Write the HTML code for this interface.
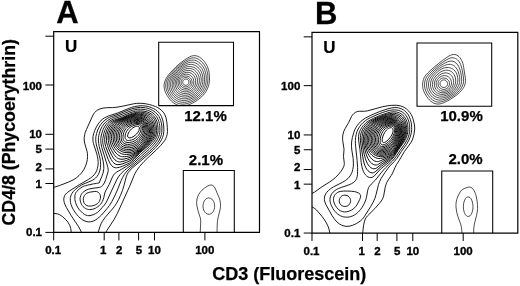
<!DOCTYPE html>
<html><head><meta charset="utf-8"><title>Figure</title>
<style>
html,body{margin:0;padding:0;background:#fff}
svg{display:block}
text{font-family:"Liberation Sans",sans-serif;font-weight:bold;fill:#000}
.c{fill:none;stroke:#000;stroke-width:0.95;stroke-linejoin:round}
.c3{fill:none;stroke:#000;stroke-width:0.9;stroke-linejoin:round}
.c2{fill:none;stroke:#000;stroke-width:0.7;stroke-linejoin:round}
.f{fill:none;stroke:#000;stroke-width:1.2}
.g{fill:none;stroke:#000;stroke-width:1.05}
.t{fill:none;stroke:#000;stroke-width:1.0}
.n{font-size:11.5px;stroke:#000;stroke-width:0.35}
.L{font-size:31px;stroke:#000;stroke-width:0.3}
.u{font-size:17px;stroke:#000;stroke-width:0.2}
.p{font-size:15px;stroke:#000;stroke-width:0.25}
.a{font-size:18px;stroke:#000;stroke-width:0.25}
</style></head><body>
<svg width="520" height="286" viewBox="0 0 520 286">
<rect width="520" height="286" fill="#fff"/>
<g transform="translate(0,0)">
<clipPath id="cf1"><rect x="53.7" y="31.7" width="205.8" height="200.70000000000002"/></clipPath>
<clipPath id="cu1"><rect x="158.7" y="42.3" width="74.80000000000001" height="63.3"/></clipPath>
<path class="c3" clip-path="url(#cf1)" d="M92.0,221.5 90.5,221.8 88.5,221.9 87.0,221.7 85.0,221.1 83.0,220.1 81.5,219.1 80.0,217.9 78.5,216.5 76.5,214.2 74.9,212.0 73.3,209.5 72.0,207.0 71.0,204.5 70.5,202.5 70.3,200.5 70.3,198.5 70.4,197.5 70.8,196.0 71.4,194.5 71.9,193.5 73.3,191.5 75.3,189.5 78.4,187.0 81.5,185.0 84.0,183.8 91.0,181.0 92.9,180.0 94.4,179.0 95.6,178.0 97.0,176.5 98.3,174.5 99.2,172.5 100.0,170.0 100.5,167.5 100.6,164.5 100.5,161.5 100.1,159.0 99.3,155.5 96.4,145.0 95.9,142.0 95.7,139.5 95.9,136.5 96.6,133.5 97.7,130.0 99.2,127.0 100.7,124.5 102.8,122.0 105.0,120.0 107.5,118.4 109.5,117.3 111.5,116.5 118.0,114.3 128.0,110.2 132.0,108.8 135.0,108.0 138.0,107.6 140.5,107.4 143.0,107.5 145.5,107.8 148.0,108.4 150.5,109.3 152.5,110.3 154.0,111.3 155.6,112.5 157.0,113.9 158.0,115.1 159.0,116.6 159.9,118.5 160.7,120.5 161.2,122.5 161.7,125.0 161.9,127.0 161.9,130.0 161.8,132.5 161.4,134.5 160.8,136.5 160.2,138.0 159.3,140.0 157.7,142.5 155.7,145.0 153.9,147.0 151.0,149.9 149.3,151.5 137.8,161.5 130.1,168.0 128.0,170.0 126.2,172.0 124.3,174.5 122.6,177.5 121.2,180.5 117.4,190.0 114.7,196.0 111.9,201.5 109.4,205.5 107.1,208.5 104.2,212.0 101.5,215.0 99.5,216.9 97.5,218.6 95.5,220.0 94.0,220.8Z M90.0,215.6 89.0,215.7 87.5,215.6 85.6,215.0 84.5,214.4 83.0,213.4 79.5,209.9 77.5,207.0 76.5,205.1 75.5,202.4 74.9,199.5 74.9,195.5 75.5,193.3 76.0,192.3 76.7,191.5 79.8,188.5 83.0,186.5 84.3,186.0 85.5,185.7 86.0,185.5 87.5,185.2 88.0,185.0 90.0,184.7 93.5,183.8 95.0,183.7 96.5,183.3 99.2,183.0 99.5,182.6 99.9,181.0 102.0,176.1 102.9,173.5 103.5,171.0 103.8,168.5 103.8,167.0 103.7,165.0 103.1,161.0 101.9,156.0 99.2,146.5 98.7,143.5 98.4,141.0 98.4,139.0 98.5,137.5 98.8,135.5 99.3,133.5 100.4,130.0 101.4,128.0 102.2,126.5 103.9,124.0 105.8,122.0 107.6,120.5 110.0,119.0 111.5,118.2 113.5,117.4 120.0,115.1 129.0,111.5 132.5,110.3 135.0,109.7 137.5,109.3 140.5,109.2 143.0,109.3 145.5,109.7 147.5,110.3 149.5,111.0 151.5,112.0 153.0,113.0 154.2,114.0 155.5,115.3 156.5,116.6 157.4,118.0 158.3,120.0 158.8,121.5 159.3,123.5 159.7,125.5 159.9,128.0 159.9,130.5 159.8,132.5 159.4,134.5 158.8,136.5 157.9,138.5 157.1,140.0 155.8,142.0 154.0,144.2 151.9,146.5 149.0,149.4 141.5,156.0 134.4,162.5 132.0,164.5 126.7,168.5 124.3,170.5 122.1,172.5 120.3,174.5 118.3,177.0 116.6,180.0 111.0,192.0 107.4,200.0 106.1,202.5 104.5,204.9 103.0,206.7 101.6,208.0 100.5,209.5 97.5,212.4 95.7,213.5 93.7,214.5 92.0,215.1Z M91.0,209.5 89.5,209.6 88.5,209.5 87.5,209.3 86.5,208.9 85.5,208.4 84.5,207.8 83.0,206.5 82.2,205.5 81.5,204.5 80.7,202.5 80.3,201.0 80.1,200.0 80.1,198.5 80.2,197.5 80.8,195.5 81.3,194.5 82.0,193.4 82.8,192.5 83.9,191.5 85.0,190.8 86.0,190.2 88.5,189.2 91.0,188.6 94.0,188.1 98.0,187.7 99.5,187.4 100.5,187.1 101.5,186.5 102.6,185.5 103.7,184.0 104.7,182.0 105.7,179.5 108.0,172.0 108.2,170.5 108.1,169.0 107.9,167.5 107.2,165.0 101.8,147.5 101.0,143.5 100.8,140.5 100.8,138.5 101.0,137.0 101.4,135.0 101.9,133.0 103.1,129.5 103.8,128.0 105.0,126.0 106.4,124.0 108.0,122.4 110.0,120.9 112.0,119.7 114.5,118.6 121.5,116.2 130.0,112.8 133.5,111.6 135.5,111.2 137.5,111.0 140.5,110.9 143.0,111.0 145.0,111.4 147.0,111.9 149.0,112.7 151.0,113.8 152.5,114.9 153.5,115.8 154.5,117.0 155.2,118.0 156.1,119.5 156.7,121.0 157.2,122.5 157.6,124.5 158.1,129.0 158.1,130.5 158.0,132.0 157.5,134.5 157.1,136.0 156.5,137.5 155.4,139.5 154.4,141.0 153.0,142.8 149.5,146.4 146.8,149.0 140.5,154.5 136.1,159.0 132.8,162.0 130.5,163.7 126.5,166.3 121.5,169.3 116.8,172.0 115.4,173.0 114.5,173.9 113.5,175.1 112.5,176.8 109.2,184.5 105.6,191.0 104.8,193.0 103.8,197.5 103.2,199.5 102.4,201.5 101.5,203.0 100.5,204.2 99.3,205.5 98.0,206.6 96.5,207.6 95.5,208.2 94.0,208.8 92.5,209.3Z M85.0,239.1 84.0,237.7 83.1,236.2 80.4,230.0 78.6,226.7 71.3,215.8 66.5,207.7 65.1,204.9 64.3,202.6 63.8,200.3 63.8,198.7 64.1,197.1 64.7,195.5 65.6,194.2 67.2,192.6 69.1,191.2 79.6,184.5 88.3,179.5 90.9,177.8 92.8,176.2 94.4,174.4 95.5,173.0 96.6,170.8 97.4,168.5 98.0,165.5 98.2,162.5 97.9,159.4 97.5,156.9 96.8,153.9 93.5,143.7 93.0,141.4 92.9,139.0 93.0,136.6 93.7,133.6 94.7,130.6 96.3,127.1 98.2,123.9 100.1,121.4 102.3,119.4 104.8,117.7 108.2,116.1 118.2,112.8 128.1,108.7 131.6,107.4 134.7,106.5 137.1,106.1 140.2,105.8 142.7,105.7 145.8,106.1 148.2,106.5 151.2,107.5 153.4,108.5 155.5,109.7 157.0,110.8 159.6,113.4 160.6,114.9 161.5,116.5 162.7,119.9 163.3,122.9 163.7,126.0 163.9,129.2 163.8,131.6 163.5,134.1 163.1,135.9 162.5,137.6 161.5,139.8 160.2,141.9 158.4,144.4 155.9,147.3 153.3,150.0 148.2,154.6 132.8,167.5 130.1,170.1 128.2,172.5 127.1,174.6 126.2,176.9 123.9,185.9 122.4,190.7 120.5,195.3 118.7,199.3 116.6,203.2 114.2,206.8 111.4,210.2 105.2,217.3 102.4,221.3 101.2,223.5 100.0,226.4 97.3,235.3 96.5,236.9 95.6,238.4 94.5,239.6 93.2,240.5 91.7,241.2 90.7,241.4 89.6,241.4 88.1,241.1 86.7,240.4 85.4,239.5Z M102.9,137.9 103.9,133.3 104.7,130.8 105.7,128.4 106.7,126.5 107.9,124.7 109.0,123.5 110.2,122.3 111.9,121.2 114.2,120.1 122.3,117.4 129.9,114.2 133.1,113.1 136.9,112.3 140.3,112.1 144.1,112.5 147.4,113.5 150.4,115.1 152.6,117.0 154.4,119.3 155.5,122.0 156.1,124.5 156.5,127.9 156.6,130.5 156.4,133.0 155.9,135.0 155.1,137.0 154.1,138.9 152.6,140.9 148.9,145.1 140.1,152.7 134.3,159.0 131.7,161.3 129.7,162.8 127.0,164.2 122.3,166.3 119.5,167.3 116.7,167.8 115.2,167.7 114.1,167.4 113.0,166.8 111.8,165.8 110.1,163.5 108.3,159.7 103.6,146.7 103.1,144.7 102.8,142.6 102.7,140.4 102.9,138.3Z M87.0,193.1 89.7,192.2 94.8,191.4 96.8,191.6 97.7,192.0 98.5,192.5 99.4,193.5 100.1,194.6 100.4,195.8 100.5,197.0 100.3,198.6 99.9,200.1 99.3,201.5 98.4,202.7 97.3,203.7 95.8,204.7 93.9,205.4 91.6,206.0 89.9,206.1 88.3,206.0 86.9,205.6 85.6,204.8 84.5,203.7 83.7,202.1 83.3,200.4 83.3,198.6 83.8,196.8 84.4,195.5 85.4,194.3 86.8,193.2Z M50.0,188.0 55.2,186.9 59.2,185.7 68.2,182.2 73.0,180.0 76.6,177.7 79.0,175.6 81.2,173.3 83.7,169.8 85.6,165.9 86.6,162.9 87.3,159.7 87.5,156.5 87.4,153.3 87.0,151.2 84.9,144.0 84.3,140.9 84.2,137.8 84.7,134.6 85.2,132.6 86.4,129.6 92.5,116.0 93.5,114.1 94.8,112.4 96.3,110.9 97.1,110.3 100.0,108.9 103.1,108.1 106.3,107.7 112.6,107.6 116.9,107.2 122.1,106.3 133.6,103.8 136.7,103.4 139.9,103.3 143.0,103.4 146.2,103.9 149.3,104.5 152.4,105.4 155.4,106.5 157.3,107.4 160.0,109.1 161.7,110.5 163.8,112.9 164.9,114.8 166.0,117.7 166.8,121.9 167.3,127.2 167.5,131.4 167.1,134.6 166.5,136.7 165.7,138.6 164.7,140.5 163.4,142.2 160.7,145.5 156.2,150.0 147.7,157.9 143.9,161.6 139.7,166.4 136.6,170.7 135.0,173.5 134.1,175.4 129.7,186.2 117.4,213.3 113.9,219.8 106.9,230.4 103.5,237.0 M53.7,213.4 57.2,213.8 59.6,214.7 62.8,216.8 66.2,220.0 68.2,222.6 69.8,225.5 70.7,228.4 71.3,232.4"/>
<path class="c" clip-path="url(#cf1)" d="M120.1,164.5 123.0,163.7 127.5,161.9 130.0,160.7 132.5,159.0 134.5,157.3 139.4,152.5 145.1,147.5 147.7,145.0 150.8,141.5 152.3,139.5 153.2,138.0 154.0,136.5 154.6,135.0 154.9,133.5 155.1,132.0 155.2,130.5 155.2,128.5 155.0,126.5 154.6,124.5 154.2,123.0 153.7,121.5 153.2,120.5 152.5,119.3 151.5,118.1 150.5,117.1 149.5,116.3 148.2,115.5 146.5,114.6 144.5,113.9 142.5,113.5 140.5,113.2 138.5,113.2 136.5,113.3 134.5,113.7 132.5,114.2 129.5,115.2 123.0,117.8 117.0,120.0 114.0,121.4 112.2,122.5 111.0,123.5 109.6,125.0 108.3,127.0 107.0,129.5 106.1,132.0 105.4,134.5 104.9,137.0 104.7,139.5 104.8,142.0 105.1,144.0 105.7,146.5 107.0,150.0 110.0,157.2 111.2,159.5 112.5,161.6 113.3,162.5 114.0,163.2 115.0,163.9 116.0,164.3 117.0,164.6 118.0,164.7Z M122.8,161.5 126.5,160.4 129.5,159.2 132.0,157.9 134.0,156.4 143.5,148.0 146.6,145.0 148.4,143.0 150.0,141.0 151.4,139.0 152.3,137.5 153.0,136.0 153.5,134.5 153.8,133.0 154.0,131.5 154.0,130.0 153.9,128.0 153.6,126.0 153.3,124.5 152.4,122.0 151.6,120.5 150.9,119.5 150.0,118.5 148.8,117.5 147.5,116.6 146.5,116.0 145.0,115.4 143.0,114.7 141.0,114.3 139.0,114.2 137.0,114.2 135.0,114.4 133.0,114.8 130.5,115.6 127.5,116.7 119.1,120.0 116.8,121.0 114.9,122.0 113.5,123.0 111.9,124.5 110.7,126.0 109.4,128.0 108.3,130.5 107.4,133.0 106.9,135.5 106.6,138.0 106.5,140.5 106.8,143.0 107.5,145.5 108.4,148.0 110.0,151.8 112.0,155.8 113.5,158.2 115.0,159.9 116.5,161.0 117.5,161.5 118.5,161.8 119.5,161.9 120.5,161.9Z M124.2,159.0 127.5,158.2 130.5,157.1 133.0,155.8 136.0,153.6 142.0,148.5 145.6,145.0 147.4,143.0 149.0,141.0 150.3,139.0 151.1,137.5 151.8,136.0 152.3,134.5 152.6,133.0 152.8,131.5 152.8,130.0 152.8,128.5 152.5,126.5 152.1,125.0 151.6,123.5 151.0,122.1 150.3,121.0 149.5,120.0 148.6,119.0 147.5,118.1 145.5,116.9 144.0,116.2 142.0,115.6 140.0,115.2 138.0,115.1 136.0,115.1 134.0,115.4 131.5,116.0 129.0,116.8 125.7,118.0 120.8,120.0 117.7,121.5 116.0,122.5 114.7,123.5 113.1,125.0 112.0,126.5 110.8,128.5 109.9,130.5 109.0,133.0 108.5,135.5 108.2,138.0 108.3,140.5 108.6,142.5 109.2,145.0 110.2,147.5 111.6,150.5 113.5,153.7 115.0,155.8 116.5,157.3 117.5,158.1 118.2,158.5 119.0,158.8 120.0,159.1 122.0,159.3Z M126.6,156.5 128.5,156.1 130.0,155.7 131.5,155.2 133.0,154.5 136.0,152.6 140.0,149.5 143.2,146.5 144.7,145.0 146.4,143.0 147.9,141.0 148.9,139.5 149.8,138.0 150.5,136.5 151.0,135.0 151.4,133.5 151.7,132.0 151.7,130.5 151.7,129.0 151.5,127.5 151.2,126.0 150.7,124.5 150.0,123.0 149.5,122.1 148.7,121.0 148.0,120.2 147.0,119.3 146.0,118.5 145.0,117.9 143.5,117.2 141.5,116.5 139.5,116.1 137.5,115.9 135.5,116.0 133.0,116.4 130.5,117.0 127.5,117.9 124.7,119.0 121.3,120.5 119.4,121.5 117.7,122.5 116.4,123.5 114.8,125.0 113.6,126.5 112.6,128.0 111.6,130.0 110.9,132.0 110.2,134.5 109.9,137.0 109.9,139.5 110.3,142.0 110.8,144.0 111.5,146.0 112.8,148.5 114.5,151.2 116.0,153.1 117.5,154.5 119.0,155.6 120.5,156.3 121.5,156.6 122.5,156.7 124.5,156.7Z M126.5,154.5 129.5,154.2 131.0,153.9 132.5,153.4 134.0,152.7 135.5,151.9 138.5,149.8 141.7,147.0 143.5,145.2 145.0,143.5 146.5,141.6 147.6,140.0 148.4,138.5 149.2,137.0 150.1,134.5 150.4,133.0 150.6,131.5 150.6,130.0 150.5,128.5 150.2,127.0 149.8,125.5 149.2,124.0 148.6,123.0 148.0,122.0 147.1,121.0 146.1,120.0 145.0,119.2 143.0,118.1 141.0,117.4 139.0,117.0 137.0,116.8 135.0,116.9 133.0,117.1 130.5,117.7 127.9,118.5 125.2,119.5 122.9,120.5 121.0,121.5 119.4,122.5 117.5,124.0 116.0,125.5 115.0,126.7 113.9,128.5 113.1,130.0 112.4,132.0 111.9,134.0 111.5,136.5 111.5,138.5 111.7,140.5 112.1,142.5 112.8,144.5 113.8,146.5 115.0,148.4 116.5,150.2 118.0,151.6 119.5,152.7 121.5,153.7 123.0,154.2 124.5,154.4Z M130.0,152.5 131.5,152.2 133.0,151.7 135.5,150.6 138.0,149.0 140.5,147.0 142.0,145.5 143.4,144.0 145.7,141.0 147.6,138.0 148.3,136.5 148.8,135.0 149.2,133.5 149.5,132.0 149.5,129.5 149.1,127.0 148.7,125.5 148.2,124.5 147.0,122.5 146.2,121.5 145.1,120.5 144.0,119.7 143.0,119.1 141.0,118.3 139.0,117.9 137.0,117.7 135.0,117.7 133.0,118.0 130.5,118.5 128.5,119.1 126.0,120.0 123.7,121.0 121.9,122.0 120.4,123.0 119.0,124.1 117.6,125.5 116.4,127.0 115.4,128.5 114.7,130.0 113.9,132.0 113.4,134.0 113.1,136.0 113.1,138.0 113.3,140.0 113.7,142.0 114.4,144.0 115.4,146.0 116.5,147.5 117.9,149.0 119.1,150.0 121.0,151.1 122.5,151.8 124.0,152.3 126.0,152.6 128.0,152.7Z M129.5,151.0 132.0,150.5 134.5,149.6 137.0,148.3 139.5,146.4 142.0,143.9 144.4,141.0 145.4,139.5 146.3,138.0 147.5,135.5 148.2,133.0 148.4,130.5 148.2,128.0 147.7,126.0 146.8,124.0 146.2,123.0 145.4,122.0 144.5,121.2 143.5,120.4 141.5,119.4 140.0,119.0 138.0,118.6 136.5,118.6 134.5,118.7 132.5,119.0 130.2,119.5 128.0,120.2 125.9,121.0 124.0,121.9 122.5,122.9 121.0,123.9 119.8,125.0 118.5,126.4 117.5,127.7 116.5,129.5 115.8,131.0 115.3,132.5 114.8,134.5 114.6,136.5 114.7,138.5 114.9,140.5 115.5,142.5 116.1,144.0 117.0,145.6 118.0,146.9 119.2,148.0 120.5,149.0 122.0,149.8 123.5,150.4 125.5,150.9 127.5,151.1Z M131.9,149.0 134.0,148.3 136.5,147.0 138.5,145.6 140.5,143.7 142.5,141.5 144.5,138.8 145.8,136.5 146.7,134.0 147.2,132.0 147.3,129.5 147.1,128.0 146.9,127.0 146.2,125.0 145.4,123.5 144.6,122.5 144.0,121.9 142.5,120.8 140.5,120.0 139.0,119.7 137.0,119.5 135.5,119.5 133.5,119.7 131.5,120.2 129.0,120.9 127.0,121.7 125.3,122.5 123.6,123.5 122.2,124.5 121.1,125.5 120.0,126.6 119.0,128.0 118.1,129.5 117.4,131.0 116.8,132.5 116.5,134.0 116.2,136.0 116.2,138.0 116.4,140.0 117.0,142.0 117.6,143.5 118.5,145.0 119.3,146.0 120.5,147.1 121.9,148.0 123.5,148.7 125.0,149.1 126.5,149.4 128.5,149.5 130.0,149.4Z M131.4,147.5 133.5,146.9 135.5,145.9 137.5,144.6 139.0,143.4 141.0,141.4 142.9,139.0 144.2,137.0 145.3,134.5 145.9,132.5 146.2,130.0 146.0,128.0 145.6,126.0 144.9,124.5 143.9,123.0 142.5,121.8 141.0,121.1 139.5,120.7 138.0,120.4 136.5,120.4 135.0,120.5 133.0,120.8 131.0,121.4 129.0,122.0 127.0,122.9 125.5,123.7 124.2,124.5 123.0,125.5 121.9,126.5 121.0,127.5 120.0,129.0 119.4,130.0 118.8,131.5 118.3,133.0 117.9,135.0 117.8,137.0 117.8,138.5 118.2,140.5 118.6,142.0 119.4,143.5 120.0,144.4 121.0,145.4 122.0,146.2 123.5,147.0 125.0,147.5 126.5,147.7 128.0,147.8 129.5,147.8Z M130.5,146.0 132.5,145.5 134.5,144.8 136.5,143.6 137.9,142.5 140.0,140.5 141.5,138.7 142.7,137.0 143.8,135.0 144.5,133.0 144.9,131.0 145.0,129.0 144.7,127.0 144.3,125.5 143.5,124.0 142.5,123.0 141.8,122.5 141.0,122.1 140.0,121.7 138.5,121.4 137.0,121.4 135.5,121.4 134.0,121.7 132.0,122.2 128.5,123.4 126.0,124.8 123.8,126.5 122.9,127.5 122.1,128.5 121.4,129.5 120.6,131.0 120.1,132.5 119.7,134.0 119.5,135.5 119.4,137.5 119.5,139.0 119.9,140.5 120.4,142.0 121.0,143.0 121.9,144.0 122.5,144.5 123.5,145.1 125.0,145.7 126.0,146.0 127.5,146.1 129.0,146.2Z M131.7,144.0 133.5,143.4 135.0,142.7 136.5,141.7 138.0,140.5 139.5,139.0 141.0,137.1 142.0,135.6 142.8,134.0 143.3,132.5 143.7,130.5 143.8,128.5 143.6,127.0 143.1,125.5 142.6,124.5 141.6,123.5 140.5,122.9 139.5,122.6 138.5,122.4 137.0,122.4 135.5,122.5 134.0,122.8 132.5,123.2 129.1,124.5 127.0,125.7 125.9,126.5 124.9,127.5 124.0,128.5 123.3,129.5 122.2,131.5 121.7,133.0 121.4,134.5 121.2,136.0 121.1,137.5 121.3,139.0 121.5,140.0 121.9,141.0 122.5,142.0 123.0,142.6 124.0,143.4 125.0,143.9 126.0,144.2 127.5,144.4 129.0,144.4 130.5,144.2Z M129.2,142.5 131.0,142.2 132.5,141.8 134.0,141.2 135.5,140.4 137.0,139.2 138.3,138.0 139.5,136.6 140.5,135.2 141.4,133.5 142.0,132.0 142.3,130.5 142.5,128.5 142.4,127.0 142.0,125.8 141.5,125.0 141.1,124.5 140.5,124.1 140.0,123.8 139.0,123.5 138.0,123.4 137.0,123.4 135.0,123.7 132.5,124.5 130.0,125.6 128.0,126.8 127.1,127.5 126.1,128.5 125.0,130.0 124.4,131.0 123.8,132.5 123.1,135.0 123.0,136.5 123.0,137.5 123.1,138.5 123.3,139.5 123.8,140.5 124.2,141.0 124.7,141.5 125.5,142.0 127.0,142.4 128.0,142.5Z M131.4,140.0 132.9,139.5 134.0,139.0 136.0,137.6 137.0,136.7 138.2,135.5 138.9,134.5 139.5,133.5 140.3,132.0 140.6,131.0 141.0,129.5 141.1,128.0 141.0,127.0 140.6,126.0 140.2,125.5 139.5,125.0 139.0,124.8 138.0,124.6 137.0,124.6 136.0,124.8 134.0,125.4 131.6,126.5 129.9,127.5 128.5,128.7 127.4,130.0 126.5,131.5 125.6,133.5 125.2,135.0 125.1,136.0 125.1,137.5 125.3,138.5 125.5,139.0 126.0,139.6 126.5,140.0 127.5,140.4 128.5,140.5 129.5,140.4Z M131.5,137.5 133.0,136.8 135.0,135.4 136.6,134.0 137.8,132.5 138.9,130.5 139.3,129.0 139.4,128.0 139.3,127.5 139.1,127.0 138.6,126.5 138.0,126.2 137.5,126.2 136.5,126.3 135.5,126.5 134.0,127.2 132.7,128.0 131.4,129.0 130.4,130.0 129.3,131.5 128.4,133.0 127.8,134.5 127.6,136.0 127.8,137.0 128.3,137.5 129.0,137.8 130.0,137.9Z"/>
<path class="c2" clip-path="url(#cu1)" d="M184.1,105.8 186.2,105.5 188.2,104.9 190.2,104.2 192.2,103.3 194.2,102.2 196.2,101.0 198.2,99.6 200.2,98.0 201.7,96.7 203.2,95.2 204.7,93.4 205.8,91.8 206.7,90.2 207.6,88.3 208.2,86.8 208.8,84.8 209.2,82.8 209.5,80.3 209.5,77.8 209.4,75.3 209.1,72.8 208.8,70.8 208.2,68.8 207.5,66.8 206.7,65.1 205.6,63.3 204.2,61.4 202.7,59.7 201.2,58.4 199.7,57.3 197.8,56.3 196.2,55.8 194.7,55.6 192.7,55.8 191.2,56.2 189.2,57.1 186.7,58.5 184.2,60.2 181.2,62.4 178.2,64.8 175.7,67.1 173.0,69.8 170.7,72.3 168.6,74.8 167.2,76.8 166.0,78.8 165.1,80.8 164.4,82.8 164.1,84.8 164.1,86.8 164.4,88.8 164.9,90.8 165.7,92.8 167.0,95.3 168.7,97.8 170.2,99.7 171.7,101.3 173.2,102.6 174.9,103.8 176.7,104.7 178.4,105.3 180.2,105.7 182.2,105.9Z M186.1,103.8 187.7,103.4 189.7,102.7 191.2,102.1 193.2,101.1 195.2,99.9 196.9,98.8 198.7,97.4 200.2,96.1 201.6,94.8 202.9,93.3 204.0,91.8 204.9,90.3 205.7,88.8 206.4,87.3 206.9,85.8 207.4,83.8 207.7,81.8 207.9,79.8 207.9,77.8 207.8,75.3 207.5,73.3 207.1,71.3 206.5,69.3 205.7,67.4 204.8,65.8 203.7,64.1 202.6,62.8 201.2,61.3 199.7,60.1 198.2,59.1 196.7,58.4 195.2,57.9 193.7,57.8 191.7,58.0 190.2,58.5 188.2,59.3 185.7,60.8 183.2,62.4 180.7,64.2 178.2,66.3 176.0,68.3 173.5,70.8 171.3,73.3 169.3,75.8 168.0,77.8 167.0,79.8 166.2,81.8 165.9,83.3 165.7,85.3 165.8,87.3 166.2,89.3 166.9,91.3 167.8,93.3 169.2,95.7 170.7,97.7 172.2,99.4 173.7,100.8 175.2,101.9 176.7,102.7 178.7,103.5 180.2,103.9 182.2,104.1 184.2,104.1Z M184.5,102.3 186.2,102.1 187.7,101.7 189.2,101.3 191.2,100.5 193.2,99.4 194.7,98.6 196.5,97.3 198.2,96.0 200.7,93.5 201.7,92.3 202.8,90.8 203.7,89.3 204.4,87.8 205.0,86.3 205.6,84.3 205.9,82.8 206.2,80.8 206.3,78.8 206.2,76.8 206.0,74.8 205.6,72.8 205.0,70.8 204.4,69.3 203.7,67.8 202.7,66.3 201.5,64.8 200.2,63.4 198.7,62.2 197.3,61.3 196.2,60.7 194.7,60.2 193.2,60.0 191.7,60.1 190.2,60.4 188.7,60.9 186.7,61.8 184.2,63.3 181.7,65.0 179.7,66.5 177.7,68.2 175.5,70.3 173.2,72.8 171.6,74.8 170.2,76.8 169.0,78.8 168.1,80.8 167.7,82.3 167.4,83.8 167.3,85.8 167.5,87.3 167.9,89.3 168.6,91.3 169.6,93.3 170.7,95.0 172.1,96.8 173.2,98.0 174.7,99.3 176.2,100.3 177.7,101.1 179.2,101.7 181.2,102.2 182.7,102.3Z M186.6,100.3 188.2,99.9 189.7,99.4 192.7,98.0 194.2,97.2 195.7,96.1 197.2,94.9 198.4,93.8 199.7,92.4 200.6,91.3 202.2,88.8 202.9,87.3 203.5,85.8 204.0,84.3 204.3,82.8 204.5,81.3 204.6,79.3 204.5,77.3 204.4,75.8 203.7,72.8 203.2,71.3 202.5,69.8 201.7,68.4 200.7,67.1 199.7,66.0 198.4,64.8 197.2,63.9 195.7,63.1 194.2,62.5 193.2,62.3 191.7,62.2 190.2,62.4 188.7,62.7 186.7,63.5 184.7,64.5 182.7,65.7 180.7,67.1 179.2,68.4 177.6,69.8 175.6,71.8 173.9,73.8 172.3,75.8 171.0,77.8 170.3,79.3 169.5,81.3 169.1,82.8 169.0,84.3 169.0,86.3 169.2,87.8 169.8,89.8 170.7,91.8 171.6,93.3 172.7,94.9 174.0,96.3 175.2,97.4 176.7,98.5 178.2,99.3 179.7,99.9 181.2,100.3 183.2,100.6 184.7,100.5Z M184.4,98.8 185.7,98.7 187.2,98.5 188.7,98.1 190.2,97.6 191.7,96.9 193.2,96.1 195.7,94.3 197.8,92.3 198.7,91.3 199.8,89.8 201.2,87.3 201.8,85.8 202.3,84.3 202.7,82.8 202.9,81.3 202.9,79.8 202.9,77.8 202.7,76.3 202.4,74.8 201.9,73.3 201.3,71.8 200.7,70.7 199.8,69.3 199.0,68.3 197.9,67.3 196.7,66.3 195.7,65.7 194.7,65.2 193.2,64.7 191.7,64.4 190.2,64.4 188.7,64.6 187.2,65.0 185.7,65.6 183.7,66.6 182.2,67.5 180.7,68.6 179.2,69.8 177.2,71.7 175.7,73.4 174.1,75.3 172.8,77.3 172.0,78.8 171.4,80.3 170.9,81.8 170.6,83.3 170.6,84.8 170.7,86.3 170.9,87.8 171.4,89.3 172.0,90.8 172.9,92.3 173.7,93.5 174.7,94.6 176.0,95.8 177.2,96.7 178.7,97.5 180.2,98.2 181.7,98.6 183.2,98.8Z M187.3,96.8 189.7,96.1 192.2,95.0 194.6,93.3 196.7,91.3 198.3,89.3 199.7,86.8 200.6,84.3 201.1,81.8 201.3,80.3 201.2,78.8 200.9,76.3 200.2,74.1 199.6,72.8 199.0,71.8 198.3,70.8 197.4,69.8 195.7,68.4 193.7,67.3 192.7,67.0 191.2,66.6 190.2,66.6 188.7,66.6 187.2,66.8 185.7,67.2 184.3,67.8 183.2,68.4 181.7,69.3 180.2,70.5 178.7,71.8 177.2,73.4 175.7,75.2 174.5,76.8 173.7,78.3 173.0,79.8 172.5,81.3 172.3,82.8 172.2,84.3 172.2,85.8 172.5,87.3 172.9,88.8 173.6,90.3 174.2,91.3 175.2,92.6 176.2,93.7 177.2,94.5 178.7,95.5 179.7,96.0 181.2,96.5 182.7,96.9 184.2,97.0 185.7,97.0Z M185.7,95.3 187.2,95.1 188.2,94.9 190.2,94.2 191.7,93.4 192.7,92.8 194.5,91.3 196.3,89.3 197.6,87.3 198.5,85.3 199.2,82.8 199.4,80.3 199.2,77.8 198.7,75.8 197.7,73.7 196.3,71.8 194.7,70.3 193.7,69.7 192.7,69.2 190.7,68.6 189.7,68.5 188.2,68.5 187.2,68.6 185.7,69.0 184.2,69.5 183.2,70.0 181.7,71.0 180.7,71.7 178.2,74.0 177.1,75.3 176.0,76.8 175.2,78.1 174.6,79.3 174.3,80.3 173.9,81.8 173.7,82.8 173.7,84.3 173.8,85.8 174.0,86.8 174.5,88.3 175.0,89.3 175.6,90.3 176.3,91.3 177.2,92.2 178.2,93.1 179.3,93.8 180.7,94.5 181.7,94.8 183.2,95.2 184.2,95.3Z M187.7,93.3 189.7,92.6 191.7,91.5 193.3,90.3 194.7,88.8 195.7,87.3 196.7,85.3 197.3,83.3 197.5,81.3 197.5,79.3 197.0,77.3 196.2,75.3 195.2,73.8 193.7,72.3 192.2,71.3 190.7,70.7 188.7,70.4 186.7,70.5 185.2,70.9 184.2,71.2 182.7,72.0 181.7,72.6 179.7,74.2 178.7,75.3 177.7,76.5 176.8,77.8 176.3,78.8 175.5,80.8 175.3,81.8 175.1,83.3 175.2,84.7 175.4,85.8 176.1,87.8 177.2,89.7 177.7,90.3 178.8,91.3 179.7,92.0 180.7,92.6 182.7,93.3 183.7,93.5 185.2,93.6 186.7,93.5Z M186.6,91.8 188.2,91.4 189.7,90.9 191.2,90.0 192.7,88.7 193.8,87.3 194.7,85.8 195.3,84.3 195.6,82.3 195.6,80.3 195.4,78.8 194.7,76.9 193.7,75.3 192.7,74.3 191.2,73.2 189.7,72.6 188.2,72.3 186.2,72.4 184.2,72.9 182.2,73.9 180.7,75.0 179.2,76.5 177.9,78.3 177.0,80.3 176.6,82.3 176.7,84.3 177.2,86.3 178.0,87.8 179.2,89.3 180.7,90.5 181.7,91.1 182.7,91.5 184.7,91.9Z M188.0,89.8 189.2,89.3 190.7,88.3 191.7,87.4 192.5,86.3 193.3,84.8 193.7,83.3 193.8,81.8 193.7,80.3 193.3,78.8 192.7,77.6 191.7,76.3 190.7,75.5 189.5,74.8 188.2,74.3 186.7,74.2 185.2,74.3 183.7,74.7 182.2,75.5 180.7,76.6 179.7,77.8 178.8,79.3 178.3,80.8 178.1,82.3 178.2,83.8 178.6,85.3 179.3,86.8 180.2,87.9 181.7,89.1 183.2,89.8 184.7,90.1 186.2,90.1Z M187.3,88.3 188.2,88.0 189.4,87.3 190.5,86.3 191.2,85.4 191.7,84.3 192.0,83.3 192.1,81.8 191.9,80.8 191.6,79.8 191.1,78.8 190.2,77.7 189.2,76.9 188.2,76.4 186.7,76.0 185.2,76.0 184.2,76.1 183.2,76.5 181.9,77.3 180.9,78.3 180.3,79.3 179.8,80.3 179.6,81.3 179.6,82.8 179.7,83.8 180.1,84.8 180.7,85.9 181.7,87.0 182.7,87.7 183.7,88.1 184.7,88.4 186.2,88.5Z M186.7,86.8 187.7,86.5 188.2,86.2 189.2,85.4 189.7,84.8 190.0,84.3 190.4,83.3 190.5,82.3 190.4,81.3 190.1,80.3 189.7,79.6 189.0,78.8 188.2,78.2 187.4,77.8 186.7,77.6 185.7,77.5 184.7,77.6 183.7,78.0 183.2,78.3 182.6,78.8 181.8,79.8 181.5,80.3 181.2,81.3 181.1,82.3 181.2,83.3 181.6,84.3 181.9,84.8 182.3,85.3 183.2,86.1 183.7,86.4 184.7,86.8 185.7,86.9Z M186.0,85.3 186.7,85.2 187.2,85.0 187.7,84.7 188.2,84.2 188.7,83.3 188.9,82.8 188.9,81.8 188.6,80.8 188.3,80.3 187.8,79.8 187.2,79.4 186.7,79.2 185.7,79.1 184.7,79.3 183.7,79.9 183.0,80.8 182.8,81.3 182.7,82.3 182.9,83.3 183.2,83.9 183.7,84.5 184.7,85.1 185.2,85.3Z"/>
<path class="c2" clip-path="url(#cf1)" d="M200.0,236.0 200.7,223.0 200.7,220.1 200.3,217.9 198.4,212.0 196.9,205.9 196.6,202.5 197.0,199.1 197.6,196.9 198.8,194.3 200.1,192.4 201.9,190.3 204.5,188.1 207.3,186.2 209.4,185.2 211.1,185.0 212.2,185.2 213.2,185.8 214.1,186.6 215.0,188.0 219.0,197.4 219.9,200.1 220.4,202.9 220.5,206.3 220.2,209.1 218.0,217.9 217.4,221.3 217.1,228.6 217.0,236.0 M214.6,206.1 214.5,207.6 214.2,209.2 213.6,210.6 213.0,211.8 212.2,212.8 211.1,213.6 210.1,214.1 209.0,214.3 207.9,214.2 206.9,213.8 205.9,213.2 205.0,212.3 204.3,211.2 203.7,210.0 203.3,208.5 203.0,207.0 203.0,205.2 203.3,203.7 203.7,202.2 204.4,200.8 205.1,199.7 206.1,198.8 207.3,198.2 208.4,197.9 209.5,198.0 210.7,198.4 211.8,199.1 212.7,200.1 213.5,201.2 214.1,202.6 214.4,204.1 214.6,205.9Z"/>
<path class="f" d="M53.7,31.7H259.5V232.4H53.7Z"/>
<path class="g" d="M158.7,42.3H233.5V105.6H158.7Z M183.3,232.4V170.4H234.3V232.4"/>
<path class="t" d="M45.4,36.2H53.7M45.4,85.0H53.7M45.4,134.3H53.7M45.4,149.1H53.7M45.4,168.9H53.7M45.4,183.5H53.7M45.4,232.4H53.7M53.7,232.4V240.4M104.2,232.4V240.4M118.9,232.4V240.4M138.6,232.4V240.4M154.5,232.4V240.4M204.9,232.4V240.4"/>
<text class="n" x="42.0" y="89.8" text-anchor="end">100</text>
<text class="n" x="42.0" y="138.2" text-anchor="end">10</text>
<text class="n" x="42.0" y="153.0" text-anchor="end">5</text>
<text class="n" x="42.0" y="170.8" text-anchor="end">2</text>
<text class="n" x="42.0" y="188.2" text-anchor="end">1</text>
<text class="n" x="42.0" y="236.3" text-anchor="end">0.1</text>
<text class="n" x="53.2" y="254.4" text-anchor="middle">0.1</text>
<text class="n" x="103.3" y="254.4" text-anchor="middle">1</text>
<text class="n" x="119.2" y="254.4" text-anchor="middle">2</text>
<text class="n" x="138.9" y="254.4" text-anchor="middle">5</text>
<text class="n" x="154.5" y="254.4" text-anchor="middle">10</text>
<text class="n" x="204.8" y="254.4" text-anchor="middle">100</text>
</g>
<g transform="translate(258.3,0.65)">
<clipPath id="cf2"><rect x="53.7" y="31.7" width="205.8" height="200.70000000000002"/></clipPath>
<clipPath id="cu2"><rect x="158.7" y="42.3" width="74.70000000000002" height="63.35000000000001"/></clipPath>
<path class="c3" clip-path="url(#cf2)" d="M89.0,216.5 87.5,216.5 85.5,216.3 84.0,215.9 82.5,215.3 81.0,214.5 79.5,213.5 78.0,212.2 77.0,211.1 75.7,209.5 74.5,207.7 73.6,206.0 72.7,204.0 72.2,202.5 71.7,200.5 71.7,199.0 71.8,197.5 72.3,195.5 73.2,193.5 73.9,192.5 74.8,191.5 76.5,190.0 78.5,188.7 80.5,187.7 83.0,186.8 89.8,184.5 92.0,183.6 93.5,182.9 95.5,181.6 96.7,180.5 97.5,179.5 98.3,178.0 98.9,176.0 99.2,174.0 99.3,171.0 99.3,167.0 98.8,159.5 97.3,145.5 97.1,142.5 97.1,140.0 97.3,137.0 97.8,134.0 98.7,131.0 99.8,128.5 101.3,126.0 103.0,123.8 104.7,122.0 107.1,120.0 109.0,118.7 112.0,117.1 120.5,113.3 124.5,111.8 127.5,110.8 131.0,109.8 133.5,109.4 136.5,109.2 138.5,109.4 140.5,109.8 142.5,110.6 144.0,111.4 145.5,112.5 147.0,114.0 148.0,115.3 149.0,117.0 149.7,118.5 150.4,120.5 151.0,123.0 151.3,125.0 151.4,126.5 151.4,129.0 151.3,131.0 150.8,133.5 150.3,135.5 149.4,138.0 148.4,140.0 146.4,143.5 141.7,150.0 138.1,155.5 136.0,158.3 134.0,160.5 127.4,167.0 125.5,169.0 123.4,171.5 118.0,178.3 116.5,180.0 112.9,183.5 111.2,185.5 110.3,187.0 109.6,189.0 109.3,190.5 108.2,196.5 107.7,198.5 107.0,200.5 106.2,202.5 105.1,204.5 104.0,206.5 102.5,208.6 101.0,210.3 99.5,211.8 98.0,213.1 96.0,214.4 94.5,215.2 92.5,215.9 91.0,216.3Z M94.1,136.6 95.6,131.4 96.6,128.9 97.6,127.0 98.7,125.2 100.4,123.1 102.2,121.1 103.8,119.7 107.3,117.3 112.6,114.6 121.1,111.0 128.8,108.4 133.0,107.3 136.6,106.9 138.7,107.0 140.3,107.3 143.3,108.3 145.2,109.3 146.4,110.2 148.7,112.4 149.7,113.6 150.7,115.5 152.1,118.9 152.8,121.5 153.2,124.2 153.4,126.8 153.4,129.0 153.1,131.6 152.5,134.2 151.7,136.8 150.7,139.3 148.4,143.5 143.0,151.0 138.6,157.7 136.2,160.6 131.7,165.2 129.6,167.7 126.5,172.1 122.9,177.6 121.3,180.9 120.2,183.9 117.9,193.4 116.7,197.5 114.9,201.4 112.5,205.7 105.9,216.2 103.9,218.7 102.0,220.4 98.4,222.8 94.4,224.6 90.8,225.6 87.7,225.7 84.7,225.1 83.2,224.5 81.4,223.5 78.5,221.2 76.0,218.3 73.6,214.7 67.6,203.9 66.3,200.5 66.1,199.0 66.1,197.5 66.4,195.5 67.4,193.2 68.6,191.5 70.4,189.6 72.5,187.9 75.2,186.2 84.3,181.6 87.5,179.6 89.6,177.9 91.0,176.4 92.2,174.6 93.2,172.8 94.0,170.8 94.5,168.7 95.0,166.0 95.1,163.3 94.9,157.9 93.5,149.4 93.2,145.7 93.3,141.4 94.0,137.1Z M100.2,136.0 100.8,132.4 101.4,130.7 102.4,128.7 103.5,126.7 104.9,124.9 107.8,122.0 110.7,120.0 115.2,117.7 122.3,114.6 128.8,112.4 132.3,111.4 135.4,111.1 138.5,111.4 141.0,112.2 143.7,113.8 145.7,115.6 147.4,118.1 148.6,121.0 149.3,123.7 149.6,126.4 149.7,129.1 149.5,131.3 149.0,134.0 148.1,136.5 147.1,139.0 145.7,141.4 140.4,148.8 135.7,156.1 133.4,159.0 130.5,161.8 124.8,166.3 122.4,168.3 116.1,175.2 114.8,176.2 113.7,176.7 112.6,176.9 111.1,176.8 109.6,176.3 108.3,175.3 107.1,174.1 106.1,172.6 105.2,171.1 104.4,168.9 103.6,165.9 102.9,161.8 101.7,149.1 100.3,139.6 100.2,136.4Z M75.2,199.3 75.2,197.8 75.6,196.3 76.2,194.9 77.0,193.7 78.1,192.6 79.4,191.8 80.7,191.1 82.6,190.7 85.3,190.4 89.6,190.4 93.4,190.6 96.4,191.0 98.7,191.6 100.5,192.5 101.8,193.7 102.3,194.9 102.2,196.6 101.4,198.9 99.1,203.5 97.4,206.0 95.5,207.8 93.3,209.4 90.8,210.5 88.6,211.1 86.3,211.3 84.0,210.9 82.3,210.2 80.3,209.0 78.5,207.0 77.0,204.8 75.8,202.3 75.2,199.7Z M49.7,194.3 53.5,192.9 56.2,191.5 63.6,186.2 71.4,181.3 73.8,179.6 76.9,177.1 79.8,174.2 82.4,171.0 84.2,168.4 85.5,165.7 86.0,163.7 86.0,162.7 85.2,155.7 85.7,149.6 85.6,147.6 84.5,140.6 84.3,138.6 84.3,136.5 84.7,133.5 85.6,130.5 86.9,127.8 90.5,121.6 93.1,116.1 94.1,114.4 95.5,112.9 97.2,111.7 99.0,110.9 101.0,110.6 106.1,110.6 109.2,110.2 123.8,106.2 128.8,105.2 132.8,104.7 137.9,104.6 141.9,105.2 144.8,106.2 146.6,107.2 148.3,108.4 150.5,110.5 151.8,112.1 152.9,113.8 153.8,115.6 154.5,117.5 155.8,122.4 156.3,125.4 156.4,128.4 155.7,133.5 154.7,137.4 154.0,139.3 152.6,142.0 146.0,151.0 140.9,159.8 138.2,164.0 136.8,166.7 134.4,172.3 132.9,174.9 130.0,179.2 128.5,181.8 127.8,183.6 126.9,186.6 125.3,195.6 124.6,197.5 123.7,199.3 121.3,202.5 116.6,207.9 109.3,215.1 108.0,216.7 107.0,218.4 106.0,221.2 105.2,225.2 104.5,231.3 104.2,237.3 M53.7,206.2 56.4,207.8 58.2,209.3 63.5,215.5 65.7,218.4 68.0,222.2 69.7,225.5 70.7,228.4 71.6,232.4 M92.3,200.2 92.2,201.2 91.9,202.2 91.4,203.2 90.6,204.2 89.8,204.9 88.9,205.4 87.8,205.7 86.6,205.8 85.5,205.7 84.5,205.4 83.5,205.0 82.6,204.2 81.9,203.4 81.4,202.4 81.0,201.4 80.9,200.2 81.0,199.1 81.3,198.1 81.8,197.1 82.6,196.1 83.4,195.4 84.3,194.9 85.4,194.6 86.6,194.5 87.7,194.6 88.7,194.9 89.7,195.3 90.6,196.1 91.3,196.9 91.8,197.9 92.2,198.9 92.3,200.0Z"/>
<path class="c" clip-path="url(#cf2)" d="M115.3,172.0 116.5,171.4 117.5,170.7 123.0,165.6 125.0,164.1 130.5,160.1 132.0,158.9 133.5,157.4 135.0,155.6 136.5,153.6 143.4,143.5 145.3,140.5 146.5,138.0 147.3,136.0 147.9,134.0 148.3,132.0 148.5,130.5 148.5,129.0 148.4,127.0 148.2,125.0 147.8,123.5 147.2,121.5 146.6,120.0 145.8,118.5 145.0,117.4 144.0,116.3 143.0,115.4 141.5,114.4 140.0,113.6 138.0,113.0 136.0,112.6 134.0,112.6 131.5,112.9 128.5,113.6 125.0,114.7 121.5,116.0 118.0,117.5 114.9,119.0 112.2,120.5 110.5,121.6 108.8,123.0 107.3,124.5 105.7,126.5 104.4,128.5 103.5,130.5 102.7,132.5 102.2,135.0 102.0,137.0 102.1,139.5 102.4,142.5 104.4,156.0 105.1,159.5 105.8,162.5 106.5,164.7 107.5,167.0 108.5,168.7 109.6,170.0 111.0,171.2 112.5,171.9 114.0,172.2Z M116.7,168.0 117.5,167.8 118.5,167.2 123.5,163.3 130.0,159.1 132.0,157.5 134.0,155.6 135.5,153.9 137.0,151.9 141.4,145.5 143.9,141.5 145.6,138.0 146.2,136.5 146.8,134.5 147.2,132.5 147.4,131.0 147.5,129.5 147.4,127.5 147.1,125.5 146.7,124.0 146.2,122.5 145.6,121.0 145.0,119.9 144.0,118.5 143.0,117.4 142.0,116.5 140.5,115.5 139.0,114.8 137.0,114.2 135.0,113.9 133.0,113.9 131.0,114.1 128.0,114.7 124.5,115.8 121.5,116.9 118.5,118.2 115.9,119.5 113.4,121.0 111.9,122.0 110.1,123.5 108.7,125.0 107.1,127.0 105.9,129.0 104.9,131.0 104.3,133.0 103.8,135.5 103.6,138.0 103.7,140.5 104.2,144.5 105.2,150.0 106.0,154.0 107.1,158.0 108.0,160.5 109.0,162.7 110.0,164.4 111.0,165.6 112.5,167.0 114.0,167.8 115.5,168.1Z M119.3,164.0 120.5,163.4 124.0,161.1 128.0,159.0 130.0,157.8 132.0,156.4 134.0,154.5 135.5,152.9 137.0,151.0 140.4,146.0 143.1,141.5 144.1,139.5 145.0,137.5 145.5,136.0 146.1,134.0 146.5,131.0 146.5,129.0 146.4,127.5 146.1,126.0 145.7,124.5 145.2,123.0 144.5,121.5 143.5,120.0 142.7,119.0 141.6,118.0 140.5,117.1 139.4,116.5 138.0,115.9 136.5,115.4 134.5,115.1 132.5,115.0 130.0,115.3 127.5,115.8 124.5,116.6 121.5,117.7 118.7,119.0 116.5,120.2 114.3,121.5 112.4,123.0 111.0,124.3 109.4,126.0 108.4,127.5 107.2,129.5 106.3,131.5 105.7,133.5 105.2,136.0 105.0,138.5 105.2,141.5 105.7,145.0 106.5,148.9 107.5,152.5 108.5,155.3 109.5,157.6 110.9,160.0 112.0,161.5 113.5,162.9 115.0,163.8 116.5,164.3 118.0,164.4Z M119.2,161.0 120.0,160.9 121.0,160.6 128.5,157.4 131.0,155.9 133.5,154.0 135.0,152.5 136.0,151.4 137.5,149.4 139.0,147.2 141.9,142.5 142.9,140.5 143.8,138.5 144.5,136.7 145.0,135.0 145.4,133.0 145.6,131.5 145.7,130.0 145.6,128.5 145.3,127.0 145.0,125.5 144.4,124.0 143.7,122.5 143.0,121.3 142.0,120.1 141.0,119.1 140.0,118.3 139.0,117.7 137.5,117.0 136.0,116.5 134.0,116.1 132.0,116.0 130.0,116.2 128.0,116.5 125.5,117.1 123.0,117.9 120.4,119.0 118.4,120.0 115.9,121.5 114.5,122.5 112.8,124.0 111.3,125.5 110.0,127.2 108.9,129.0 107.9,131.0 107.2,133.0 106.6,135.5 106.4,137.5 106.4,140.0 106.6,142.5 107.0,145.1 107.6,147.5 108.5,150.3 109.5,152.6 110.8,155.0 112.0,156.7 113.5,158.4 115.0,159.6 116.5,160.4 118.0,160.9Z M123.9,157.5 127.0,156.7 128.5,156.1 130.0,155.4 132.5,153.8 134.0,152.5 135.0,151.5 137.5,148.5 140.1,144.5 141.4,142.0 142.4,140.0 143.3,138.0 144.0,136.0 144.6,133.0 144.8,131.5 144.8,130.0 144.7,128.5 144.4,127.0 143.6,124.5 142.8,123.0 142.2,122.0 141.3,121.0 140.5,120.2 139.5,119.4 138.5,118.7 137.5,118.2 136.0,117.6 134.0,117.1 132.0,117.0 130.0,117.0 128.0,117.3 126.0,117.7 123.6,118.5 121.1,119.5 119.2,120.5 117.5,121.5 115.4,123.0 113.7,124.5 112.4,126.0 111.2,127.5 110.0,129.5 109.1,131.5 108.5,133.2 107.9,135.5 107.7,137.5 107.6,140.0 107.8,142.5 108.3,145.0 109.0,147.4 110.0,149.7 111.0,151.5 112.0,152.8 113.5,154.5 115.0,155.7 117.0,156.9 119.0,157.6 120.5,157.9 122.0,157.8Z M126.5,155.5 128.0,155.0 129.5,154.4 132.0,153.0 133.5,151.8 134.5,150.9 136.5,148.7 138.0,146.6 139.0,145.1 140.9,141.5 142.5,138.0 143.0,136.5 143.6,134.5 143.8,133.0 144.0,131.5 143.9,129.0 143.4,126.5 142.9,125.0 142.4,124.0 141.8,123.0 141.0,122.0 140.0,121.0 139.0,120.1 137.0,119.0 136.0,118.6 134.5,118.1 132.5,117.8 130.5,117.8 128.5,118.0 126.5,118.4 124.5,119.0 122.0,120.0 120.0,121.0 118.3,122.0 116.9,123.0 115.2,124.5 113.8,126.0 112.6,127.5 111.7,129.0 110.7,131.0 109.9,133.0 109.4,135.0 109.0,137.2 108.9,139.5 109.0,141.7 109.4,144.0 109.9,146.0 110.8,148.0 111.9,150.0 113.0,151.4 114.1,152.5 115.5,153.7 117.0,154.6 119.0,155.4 120.5,155.8 122.5,156.0 124.5,155.9Z M125.1,154.5 126.5,154.2 128.0,153.8 130.5,152.7 131.6,152.0 133.0,151.0 134.5,149.6 135.5,148.6 137.5,146.0 139.5,142.7 141.5,138.5 142.5,135.5 142.9,134.0 143.1,132.5 143.2,130.0 142.8,127.5 142.4,126.0 142.0,125.0 140.8,123.0 139.9,122.0 139.0,121.1 138.0,120.4 137.0,119.8 135.0,119.1 133.5,118.8 131.5,118.6 130.0,118.7 128.0,119.0 126.0,119.4 124.0,120.1 122.0,121.0 120.0,122.1 118.5,123.1 117.0,124.3 115.7,125.5 114.4,127.0 113.4,128.5 112.3,130.5 111.6,132.0 111.0,134.0 110.5,136.0 110.3,138.0 110.3,140.0 110.4,142.0 110.8,144.0 111.4,146.0 112.3,148.0 113.3,149.5 114.5,151.0 115.5,152.0 117.0,153.1 118.5,153.8 120.0,154.3 121.5,154.6 123.5,154.7Z M126.5,153.0 129.0,152.1 131.5,150.8 133.5,149.2 135.5,147.2 137.5,144.5 139.2,141.5 141.0,137.5 141.9,134.5 142.3,132.0 142.4,129.5 141.9,127.0 141.1,125.0 140.0,123.2 139.4,122.5 138.5,121.7 137.5,120.9 136.5,120.4 134.5,119.7 133.0,119.5 131.0,119.4 129.5,119.6 127.5,119.9 125.6,120.5 124.0,121.1 122.1,122.0 120.4,123.0 119.0,124.0 117.5,125.3 116.3,126.5 115.1,128.0 114.2,129.5 113.4,131.0 112.8,132.5 112.2,134.5 111.8,136.5 111.6,138.5 111.7,140.5 111.9,142.5 112.4,144.5 113.1,146.5 113.9,148.0 114.9,149.5 115.7,150.5 117.0,151.6 118.5,152.5 120.0,153.1 121.5,153.4 123.0,153.5 124.5,153.4Z M125.5,152.0 128.0,151.3 130.5,150.1 132.5,148.7 134.5,146.8 136.4,144.5 138.0,142.0 139.7,138.5 140.8,135.5 141.4,133.0 141.6,130.5 141.3,128.0 140.7,126.0 140.3,125.0 139.7,124.0 138.5,122.6 137.0,121.5 136.0,121.0 135.0,120.6 133.5,120.3 132.0,120.2 130.5,120.3 129.0,120.5 127.5,120.8 125.5,121.5 123.5,122.4 122.0,123.2 120.7,124.0 119.4,125.0 118.0,126.3 117.0,127.5 115.9,129.0 115.0,130.5 114.3,132.0 113.8,133.5 113.4,135.0 113.1,137.0 113.0,139.0 113.1,141.0 113.4,143.0 113.8,144.5 114.6,146.5 115.4,148.0 116.1,149.0 117.0,150.0 118.3,151.0 119.5,151.6 121.0,152.1 122.5,152.3 124.0,152.2Z M124.3,151.0 126.5,150.6 129.0,149.6 130.5,148.8 131.5,148.1 133.4,146.5 135.0,144.8 136.6,142.5 138.3,139.5 139.6,136.5 140.4,134.0 140.7,132.0 140.8,129.5 140.4,127.5 139.7,125.5 139.1,124.5 138.5,123.6 137.9,123.0 137.0,122.3 135.5,121.5 134.5,121.2 133.0,121.0 131.5,121.0 130.0,121.1 128.5,121.5 126.7,122.0 125.0,122.7 123.5,123.5 121.0,125.1 119.9,126.0 118.5,127.4 117.6,128.5 116.7,130.0 115.5,132.5 115.0,134.0 114.6,136.0 114.4,137.5 114.4,139.5 114.5,141.5 114.8,143.0 115.4,145.0 116.0,146.5 116.6,147.5 117.5,148.7 118.5,149.7 119.5,150.3 120.5,150.7 121.5,151.0 123.0,151.1Z M125.8,149.5 128.0,148.8 130.0,147.7 132.0,146.3 133.5,145.0 135.0,143.2 136.5,141.0 138.0,138.1 139.1,135.5 139.7,133.0 140.0,131.0 139.9,129.0 139.5,127.0 138.9,125.5 137.8,124.0 136.5,122.9 135.0,122.1 134.0,121.9 132.5,121.8 131.5,121.8 130.0,122.0 128.5,122.4 127.0,122.9 125.5,123.5 123.7,124.5 121.5,126.1 120.5,127.0 119.5,128.1 118.5,129.4 117.8,130.5 116.7,133.0 116.2,135.0 115.9,136.5 115.8,138.0 115.8,140.0 116.0,142.0 116.4,143.5 116.8,145.0 117.5,146.5 118.2,147.5 119.0,148.4 120.0,149.1 121.0,149.6 122.0,149.8 123.0,149.9 124.5,149.8Z M124.8,148.5 127.0,147.9 129.0,147.0 131.0,145.7 132.5,144.4 134.0,142.8 135.5,140.8 136.8,138.5 137.9,136.0 138.6,134.0 139.0,132.0 139.1,130.0 138.9,128.0 138.6,127.0 138.2,126.0 137.5,124.8 136.5,123.8 136.0,123.4 135.0,123.0 134.0,122.7 133.0,122.6 132.0,122.6 130.5,122.8 128.0,123.5 126.5,124.2 125.0,125.0 122.8,126.5 121.0,128.2 119.5,130.2 118.4,132.5 117.9,134.0 117.5,135.5 117.3,137.0 117.2,138.5 117.3,140.5 117.5,142.0 117.8,143.5 118.3,145.0 118.8,146.0 119.5,147.0 120.0,147.5 121.0,148.2 122.5,148.6 123.5,148.7Z M125.7,147.0 127.5,146.3 129.5,145.2 131.0,144.2 132.5,142.8 134.0,141.1 135.0,139.6 136.0,137.9 137.1,135.5 137.8,133.5 138.1,132.0 138.3,130.0 138.1,128.5 137.8,127.0 137.0,125.5 136.1,124.5 135.0,123.8 134.0,123.5 133.0,123.4 131.0,123.6 130.0,123.8 128.5,124.4 126.3,125.5 124.1,127.0 122.5,128.5 120.9,130.5 119.9,132.5 119.4,134.0 119.0,135.5 118.8,137.0 118.7,138.5 118.7,140.5 118.9,142.0 119.2,143.5 119.6,144.5 120.0,145.3 120.5,146.0 121.0,146.5 122.0,147.1 122.5,147.2 123.5,147.4 124.5,147.3Z M126.1,145.5 127.5,144.9 129.0,144.0 130.5,142.9 132.0,141.5 133.3,140.0 134.4,138.5 135.2,137.0 136.2,135.0 136.9,133.0 137.2,131.5 137.3,130.0 137.2,128.5 136.8,127.0 136.3,126.0 135.5,125.2 134.5,124.6 133.0,124.3 132.0,124.4 131.0,124.6 129.0,125.3 127.0,126.4 125.0,127.9 123.5,129.5 122.4,131.0 121.5,132.8 120.7,135.5 120.3,138.5 120.2,140.0 120.3,141.5 120.8,143.5 121.3,144.5 121.7,145.0 122.3,145.5 123.0,145.8 123.5,145.9 124.5,145.9Z M126.0,144.0 127.0,143.5 128.5,142.6 130.0,141.5 131.0,140.5 132.4,139.0 133.5,137.5 134.4,136.0 135.1,134.5 135.7,133.0 136.1,131.5 136.2,130.0 136.2,129.0 136.0,127.9 135.5,126.8 134.8,126.0 134.0,125.6 133.0,125.4 131.5,125.6 130.0,126.1 128.5,127.0 127.0,128.1 125.5,129.6 124.5,131.0 123.4,133.0 122.5,135.5 122.0,138.0 121.9,140.0 121.9,141.0 122.0,142.0 122.5,143.2 123.0,143.8 123.5,144.1 124.5,144.3Z M126.9,141.5 128.5,140.4 130.5,138.5 132.5,136.0 133.9,133.5 134.6,131.5 134.8,130.5 134.8,129.5 134.6,128.5 134.4,128.0 134.0,127.5 133.5,127.2 133.0,127.0 132.5,127.0 131.5,127.2 130.5,127.6 129.2,128.5 128.1,129.5 127.3,130.5 126.3,132.0 125.5,133.5 124.7,135.5 124.1,137.5 123.9,139.0 124.0,140.5 124.1,141.0 124.4,141.5 125.0,141.9 125.5,141.9 126.0,141.8Z"/>
<path class="c2" clip-path="url(#cu2)" d="M181.5,103.3 183.2,102.9 184.7,102.4 188.2,100.8 190.7,99.5 193.7,97.6 197.8,94.8 199.7,93.3 201.2,91.9 203.6,89.3 204.7,87.9 205.4,86.8 205.9,85.8 206.5,84.3 206.9,82.8 207.1,81.3 207.2,79.8 207.1,77.8 205.4,66.8 205.1,64.8 204.6,62.8 204.1,61.3 203.4,59.8 202.7,58.5 201.7,57.1 200.7,56.0 199.7,55.2 198.7,54.6 197.7,54.1 196.7,53.9 195.2,53.8 193.7,54.1 192.2,54.6 190.7,55.3 188.7,56.6 184.2,59.8 180.2,62.9 176.2,66.2 172.6,69.3 169.5,72.3 167.6,74.3 166.5,75.8 165.7,77.3 165.1,78.8 164.6,80.8 164.3,83.3 164.4,85.8 164.6,87.8 165.2,89.8 165.8,91.3 166.8,93.3 168.3,95.8 169.8,97.8 171.2,99.4 172.7,100.8 174.2,101.8 175.7,102.6 177.7,103.2 179.7,103.4Z M182.4,101.3 183.7,101.0 185.2,100.5 188.7,99.0 193.2,96.4 196.9,93.8 199.8,91.3 202.0,88.8 203.1,87.3 203.7,86.3 204.1,85.3 204.7,83.8 205.1,82.3 205.2,80.8 205.3,79.3 205.2,77.3 204.8,74.8 204.0,69.8 203.4,67.3 202.9,65.3 202.3,63.8 201.7,62.5 201.0,61.3 200.2,60.2 199.2,59.2 198.2,58.4 197.2,57.8 196.2,57.4 195.2,57.1 193.7,57.1 192.2,57.4 190.7,57.9 188.7,58.9 186.7,60.1 184.2,61.8 181.7,63.6 178.7,65.9 175.9,68.3 173.2,70.8 170.7,73.3 169.4,74.8 168.3,76.3 167.5,77.8 166.9,79.3 166.5,81.3 166.3,83.3 166.3,85.3 166.5,87.3 167.1,89.3 167.7,90.8 168.7,92.8 170.2,95.1 171.5,96.8 172.7,98.0 174.2,99.3 175.7,100.2 177.2,100.9 179.2,101.4 180.7,101.5Z M183.2,99.3 184.7,99.0 186.2,98.5 189.2,97.1 192.7,95.1 195.7,93.0 198.2,90.8 200.4,88.3 201.7,86.3 202.2,85.3 202.7,83.8 203.1,82.3 203.3,80.8 203.4,79.3 203.3,77.3 203.0,74.8 202.5,72.3 202.0,70.3 201.4,68.3 200.8,66.8 200.2,65.5 199.4,64.3 198.7,63.4 197.7,62.4 196.7,61.6 195.7,61.0 194.7,60.7 193.7,60.4 192.2,60.4 190.7,60.7 189.2,61.2 187.2,62.1 185.2,63.2 183.2,64.4 181.2,65.8 178.7,67.8 176.7,69.5 174.3,71.8 172.5,73.8 171.2,75.3 170.2,76.8 169.4,78.3 168.8,79.8 168.5,81.3 168.3,83.3 168.3,85.3 168.6,87.3 169.0,88.8 169.6,90.3 170.7,92.3 171.7,93.8 172.9,95.3 174.2,96.6 175.7,97.7 177.2,98.5 178.7,99.1 180.2,99.4 181.7,99.5Z M184.2,97.3 186.7,96.6 188.2,96.1 189.7,95.3 192.3,93.8 195.0,91.8 197.1,89.8 198.7,87.8 199.9,85.8 200.4,84.8 200.9,83.3 201.3,81.8 201.4,80.3 201.5,78.8 201.4,77.3 201.2,75.6 200.8,73.8 199.9,70.8 198.7,68.4 197.9,67.3 197.2,66.4 196.2,65.5 195.2,64.8 194.2,64.3 193.2,63.9 192.2,63.7 190.7,63.7 189.2,63.9 187.7,64.3 186.2,64.9 184.2,65.8 181.2,67.7 179.2,69.2 177.4,70.8 175.7,72.5 174.1,74.3 173.0,75.8 172.0,77.3 171.2,78.8 170.7,80.3 170.4,81.8 170.2,83.3 170.3,85.3 170.5,86.8 170.9,88.3 171.5,89.8 172.3,91.3 173.4,92.8 174.7,94.3 175.7,95.1 176.7,95.8 178.2,96.6 179.7,97.1 181.2,97.4 182.7,97.5Z M185.6,95.3 187.7,94.7 190.2,93.5 192.7,91.9 194.7,90.2 196.4,88.3 197.7,86.3 198.6,84.3 199.3,81.8 199.6,79.3 199.4,76.8 198.8,74.3 198.0,72.3 196.7,70.4 195.2,68.9 194.2,68.2 193.2,67.7 191.2,67.0 190.2,66.8 188.7,66.8 187.7,66.9 186.2,67.2 184.7,67.7 183.4,68.3 181.7,69.3 180.7,70.0 179.2,71.2 177.7,72.7 176.2,74.3 175.0,75.8 174.2,77.0 173.5,78.3 172.9,79.8 172.5,81.3 172.2,82.8 172.2,84.3 172.3,85.8 172.7,87.3 173.2,88.7 173.7,89.8 174.7,91.3 175.6,92.3 176.7,93.3 177.7,94.0 178.7,94.5 180.2,95.1 181.2,95.4 182.7,95.5 184.2,95.5Z M184.7,93.8 186.7,93.4 188.7,92.7 190.7,91.6 192.7,90.1 194.2,88.6 195.5,86.8 196.5,84.8 197.1,82.8 197.4,80.8 197.3,78.3 196.9,76.3 196.0,74.3 195.0,72.8 194.2,71.9 193.5,71.3 191.9,70.3 190.2,69.7 188.2,69.5 187.2,69.6 185.7,69.9 183.7,70.6 182.7,71.1 181.2,72.1 178.7,74.2 176.7,76.4 175.8,77.8 175.2,78.8 174.7,80.1 174.4,81.3 174.2,82.3 174.1,83.8 174.3,85.8 174.7,87.2 175.2,88.3 175.7,89.3 176.4,90.3 177.2,91.1 178.2,92.0 179.2,92.6 180.2,93.1 182.2,93.7 183.7,93.8Z M186.9,91.8 188.7,91.1 190.2,90.3 191.7,89.1 192.9,87.8 194.0,86.3 194.6,84.8 195.1,83.3 195.3,81.8 195.2,79.9 194.9,78.3 194.2,76.6 193.2,75.0 192.2,74.0 190.7,73.0 189.2,72.5 187.7,72.2 186.7,72.3 185.7,72.4 183.7,73.0 181.7,74.1 179.7,75.7 178.2,77.4 177.0,79.3 176.3,81.3 176.0,83.3 176.2,85.3 176.5,86.3 176.9,87.3 177.8,88.8 179.2,90.3 180.7,91.3 181.7,91.7 182.7,92.0 184.7,92.1 185.7,92.1Z M186.7,90.3 188.2,89.8 189.2,89.3 190.5,88.3 191.5,87.3 192.1,86.3 192.8,84.8 193.1,83.8 193.2,82.3 193.0,80.8 192.6,79.3 192.1,78.3 191.2,77.0 190.2,76.2 188.7,75.4 187.7,75.1 186.2,74.9 184.7,75.1 183.2,75.6 181.7,76.4 180.2,77.7 179.2,79.0 178.5,80.3 178.0,81.8 177.9,83.3 178.1,84.8 178.6,86.3 179.5,87.8 180.7,89.0 182.2,89.9 183.7,90.4 185.2,90.5Z M187.7,88.3 188.7,87.8 189.7,86.9 190.2,86.3 190.7,85.3 191.1,84.3 191.2,83.3 191.1,81.8 190.8,80.8 190.2,79.8 189.7,79.2 188.7,78.3 187.7,77.8 186.7,77.5 185.2,77.3 184.2,77.5 183.2,77.8 182.3,78.3 181.7,78.8 180.8,79.8 180.3,80.8 179.9,81.8 179.8,82.8 179.9,84.3 180.2,85.3 180.8,86.3 181.7,87.3 182.3,87.8 183.2,88.3 184.2,88.6 185.7,88.8 186.7,88.6Z M186.1,86.8 186.7,86.7 187.5,86.3 188.1,85.8 188.6,85.3 189.1,84.3 189.2,83.8 189.3,82.8 189.1,81.8 188.9,81.3 188.1,80.3 187.5,79.8 186.7,79.4 186.2,79.3 185.2,79.3 184.2,79.5 183.7,79.7 182.7,80.5 182.2,81.2 181.9,81.8 181.8,82.3 181.7,83.3 181.9,84.3 182.1,84.8 182.7,85.6 183.2,86.1 183.7,86.4 184.7,86.8Z"/>
<path class="c2" clip-path="url(#cf2)" d="M203.5,237.3 203.5,230.0 203.1,226.6 202.3,223.3 199.6,215.9 198.4,211.5 197.7,206.4 197.7,203.6 197.9,201.3 198.5,198.6 199.7,195.4 201.3,192.3 202.9,190.0 204.6,188.6 206.6,187.6 209.5,186.6 211.2,186.4 212.7,186.7 214.1,187.7 215.6,189.6 216.6,191.6 217.4,193.8 218.1,196.5 218.8,200.4 219.2,203.8 219.3,207.8 218.9,211.7 218.2,215.0 216.1,223.3 215.6,226.6 215.4,229.4 215.4,237.3 M214.7,206.0 214.6,208.4 214.2,210.5 213.5,212.5 212.6,214.1 211.7,215.2 210.6,215.7 209.4,215.8 208.3,215.3 207.0,213.9 206.0,211.8 205.3,209.1 205.1,206.0 205.3,203.0 206.0,200.3 207.0,198.2 208.3,196.8 209.4,196.3 210.6,196.4 211.7,196.9 212.6,198.0 213.4,199.4 214.1,201.4 214.5,203.5 214.7,205.8Z"/>
<path class="f" d="M53.7,31.7H259.5V232.4H53.7Z"/>
<path class="g" d="M158.7,42.3H233.4V105.65H158.7Z M183.45,232.4V170.45H234.4V232.4"/>
<path class="t" d="M45.4,36.2H53.7M45.4,85.0H53.7M45.4,134.3H53.7M45.4,149.1H53.7M45.4,168.9H53.7M45.4,183.5H53.7M45.4,232.4H53.7M53.7,232.4V240.4M104.2,232.4V240.4M118.9,232.4V240.4M138.6,232.4V240.4M154.5,232.4V240.4M204.9,232.4V240.4"/>
<text class="n" x="42.0" y="89.8" text-anchor="end">100</text>
<text class="n" x="42.0" y="138.2" text-anchor="end">10</text>
<text class="n" x="42.0" y="153.0" text-anchor="end">5</text>
<text class="n" x="42.0" y="170.8" text-anchor="end">2</text>
<text class="n" x="42.0" y="188.2" text-anchor="end">1</text>
<text class="n" x="42.0" y="236.3" text-anchor="end">0.1</text>
<text class="n" x="53.2" y="254.4" text-anchor="middle">0.1</text>
<text class="n" x="103.3" y="254.4" text-anchor="middle">1</text>
<text class="n" x="119.2" y="254.4" text-anchor="middle">2</text>
<text class="n" x="138.9" y="254.4" text-anchor="middle">5</text>
<text class="n" x="154.5" y="254.4" text-anchor="middle">10</text>
<text class="n" x="204.8" y="254.4" text-anchor="middle">100</text>
</g>
<text class="L" x="56.3" y="23.0">A</text>
<text class="L" x="315.0" y="24.0">B</text>
<text class="u" x="65.0" y="51.8">U</text>
<text class="u" x="323.2" y="53.1">U</text>
<text class="p" x="184.2" y="121.0">12.1%</text>
<text class="p" x="188.8" y="164.9">2.1%</text>
<text class="p" x="440.2" y="121.4">10.9%</text>
<text class="p" x="448.5" y="164.4">2.0%</text>
<text class="a" x="212.2" y="279.8">CD3 (Fluorescein)</text>
<text class="a" style="font-size:17.75px" transform="translate(14.5,225.5) rotate(-90)">CD4/8 (Phycoerythrin)</text>
</svg>
</body></html>
